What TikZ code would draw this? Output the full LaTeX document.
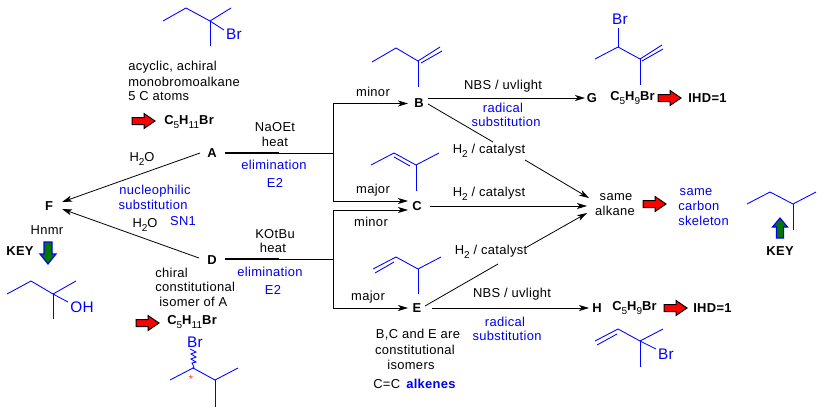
\documentclass[tikz,border=0pt]{standalone}
\usepackage{fontspec}
\setmainfont[LetterSpace=2.5]{Liberation Sans}
\usetikzlibrary{arrows.meta}
\definecolor{molblue}{RGB}{0,0,255}
\definecolor{txtblue}{RGB}{0,0,235}
\definecolor{keygreen}{RGB}{0,120,0}
\newcommand\lowsub[1]{\raisebox{-3pt}{\fontsize{7.5}{7.5}\mdseries\selectfont #1}}
\newcommand\bform[2]{\textbf{C\lowsub{5}H\lowsub{#1}Br}}
\tikzset{
  x=0.75pt,y=-0.75pt,
  txt/.style={inner sep=0pt,font=\fontsize{9.7}{10}\selectfont,text=black},
  bluetxt/.style={txt,text=txtblue},
  boldtxt/.style={txt,font=\fontsize{9.7}{10}\selectfont\bfseries},
  letter/.style={boldtxt,inner sep=1pt},
  molline/.style={draw=molblue,line width=0.65pt,line join=miter},
  molbr/.style={txt,text=molblue,font=\fontsize{11.5}{12}\selectfont},
  conn/.style={draw=black,line width=0.6pt},
  arr/.style={conn,-{Stealth[length=7.5pt,width=4.5pt,inset=2pt]}},
  thick bar/.style={draw=black,line width=1.6pt},
  redarrow/.pic={\draw[black,line width=0.75pt,fill=red] (-12,-3.5) -- (0,-3.5) -- (0,-7.5) -- (11,0) -- (0,7.5) -- (0,3.5) -- (-12,3.5) -- cycle;},
  greendown/.pic={\draw[molblue,line width=0.85pt,fill=keygreen] (-4,-11) -- (4,-11) -- (4,1) -- (8,1) -- (0,11) -- (-8,1) -- (-4,1) -- cycle;},
  greenup/.pic={\draw[molblue,line width=0.85pt,fill=keygreen] (-3.5,10) -- (3.5,10) -- (3.5,-1) -- (7.5,-1) -- (0,-10) -- (-7.5,-1) -- (-3.5,-1) -- cycle;},
}
\begin{document}
\begin{tikzpicture}
\useasboundingbox (0,0) rectangle (824,415);

% letters
\node[letter] (A) at (212,153) {A};
\node[letter] (B) at (419,103) {B};
\node[letter] (C) at (417,206) {C};
\node[letter] (D) at (212,260) {D};
\node[letter] (E) at (417,308) {E};
\node[letter] (F) at (49,206) {F};
\node[letter] (G) at (592,98) {G};
\node[letter] (H) at (597,308) {H};

% coordinates of the forks
\coordinate (ajoin) at (333,153);
\coordinate (abar) at (279,153);
\coordinate (atop) at (333,103.5);
\coordinate (abot) at (333,201);
\coordinate (djoin) at (333,259);
\coordinate (dbar) at (279,259);
\coordinate (dtop) at (333,210);
\coordinate (dbot) at (333,308);
\coordinate (Bin) at (408,103.5);
\coordinate (Cin1) at (408,201);
\coordinate (Cin2) at (408,210);
\coordinate (Ein) at (408,308);
\coordinate (Aout) at (225,153);
\coordinate (Dout) at (225,259);
\coordinate (Aleft) at (200,153);
\coordinate (Dleft) at (199,258);
\coordinate (Fa) at (62,202);
\coordinate (Fd) at (62,209);
\coordinate (Bout) at (428,98);
\coordinate (Bout2) at (428,104);
\coordinate (Gin) at (585,98);
\coordinate (Cout) at (430,206);
\coordinate (Eout) at (425,306);
\coordinate (Eout2) at (432,308);
\coordinate (Hin) at (589,308);
\coordinate (alk1) at (589,198);
\coordinate (alk2) at (587,206);
\coordinate (alk3) at (587,213);

% catalysts on the diagonal lines
\node[txt] (h2b) at (489,151) {H\lowsub{2} / catalyst};
\node[txt] (h2c) at (489,194) {H\lowsub{2} / catalyst};
\node[txt] (h2e) at (491,252) {H\lowsub{2} / catalyst};

% connectors
\draw[arr] (Aleft) -- (Fa);
\draw[arr] (Dleft) -- (Fd);
\draw[thick bar] (Aout) -- (abar);
\draw[conn] (abar) -- (ajoin);
\draw[conn] (atop) -- (abot);
\draw[arr] (atop) -- (Bin);
\draw[arr] (abot) -- (Cin1);
\draw[thick bar] (Dout) -- (dbar);
\draw[conn] (dbar) -- (djoin);
\draw[conn] (dtop) -- (dbot);
\draw[arr] (dtop) -- (Cin2);
\draw[arr] (dbot) -- (Ein);
\draw[arr] (Bout) -- (Gin);
\draw[conn] (Bout2) -- (493,142);
\draw[arr] (525,160) -- (alk1);
\draw[arr] (Cout) -- (alk2);
\draw[conn] (Eout) -- (498,264);
\draw[arr] (527,247) -- (alk3);
\draw[arr] (Eout2) -- (Hin);

% top left text
\node[txt,anchor=west] (t1) at (128,67) {acyclic, achiral};
\node[txt,anchor=west] (t2) at (128,82) {monobromoalkane};
\node[txt,anchor=west] (t3) at (128,96) {5 C atoms};
\pic at (144,121) {redarrow};
\node[boldtxt,anchor=west] (f1) at (164,122) {\bform{11}{}};
\node[txt] (naoet) at (275,127) {NaOEt};
\node[txt] (heat1) at (275,142) {heat};
\node[bluetxt] (el1) at (274,165) {elimination};
\node[bluetxt] (e21) at (275,183) {E2};
\node[txt] (w1) at (142,159) {H\lowsub{2}O};
\node[bluetxt] (nu) at (155,191) {nucleophilic};
\node[bluetxt] (su) at (153,205) {substitution};
\node[bluetxt] (sn) at (183,221) {SN1};
\node[txt] (w2) at (145,225) {H\lowsub{2}O};
\node[txt] (hnmr) at (47,230) {Hnmr};
\node[boldtxt] (key1) at (20,251) {KEY};
\pic at (48,253) {greendown};
\node[txt] (kotbu) at (275,234) {KOtBu};
\node[txt] (heat2) at (273,248) {heat};
\node[bluetxt] (el2) at (270,272) {elimination};
\node[bluetxt] (e22) at (273,290) {E2};
\node[txt,anchor=west] (c1) at (155,273) {chiral};
\node[txt,anchor=west] (c2) at (155,287) {constitutional};
\node[txt,anchor=west] (c3) at (159,302) {isomer of A};
\pic at (148,323) {redarrow};
\node[boldtxt,anchor=west] (f2) at (167,322) {\bform{11}{}};

% middle text
\node[txt] (minor1) at (373,92) {minor};
\node[txt] (major1) at (373,190) {major};
\node[txt] (minor2) at (371,222) {minor};
\node[txt] (major2) at (368,297) {major};
\node[txt] (nbs1) at (503,86) {NBS / uvlight};
\node[bluetxt] (rad1) at (503,108) {radical};
\node[bluetxt] (sub1) at (506,122) {substitution};
\node[txt] (nbs2) at (512,294) {NBS / uvlight};
\node[bluetxt] (rad2) at (505,322) {radical};
\node[bluetxt] (sub2) at (507,336) {substitution};
\node[txt] (bce) at (418,335) {B,C and E are};
\node[txt] (cons) at (415,350) {constitutional};
\node[txt] (iso) at (411,365) {isomers};
\node[txt,anchor=west] (cc) at (373,384) {C=C};
\node[boldtxt,text=txtblue,anchor=west] (alkenes) at (406,384) {alkenes};

% right text
\node[boldtxt,anchor=west] (f3) at (610,98) {\bform{9}{}};
\pic at (670,98) {redarrow};
\node[boldtxt,anchor=west] (ihd1) at (688,98) {IHD=1};
\node[boldtxt,anchor=west] (f4) at (612,308) {\bform{9}{}};
\pic at (676,308) {redarrow};
\node[boldtxt,anchor=west] (ihd2) at (693,308) {IHD=1};
\node[txt] (same1) at (616,197) {same};
\node[txt] (alk) at (615,211) {alkane};
\pic at (655,204) {redarrow};
\node[bluetxt] (same2) at (696,192) {same};
\node[bluetxt,anchor=west] (carb) at (678,206) {carbon};
\node[bluetxt,anchor=west] (skel) at (678,221) {skeleton};
\pic at (780,228) {greenup};
\node[boldtxt] (key2) at (780,251) {KEY};

% molecules
\draw[molline] (163,21) -- (186,8) -- (210,21) -- (231,8);
\draw[molline] (210,21) -- (224,30);
\draw[molline] (210,21) -- (210,46);
\node[molbr] (br1) at (234,34.5) {Br};

\draw[molline] (372,62) -- (396,48) -- (418,61) -- (440,47);
\draw[molline] (421,63) -- (442,51);
\draw[molline] (418,61) -- (418,87);

\draw[molline] (371,165) -- (394,153) -- (416,165) -- (439,153);
\draw[molline] (394,157) -- (410,166);
\draw[molline] (416,165) -- (416,191);

\draw[molline] (373,269) -- (396,257) -- (418,269) -- (441,257);
\draw[molline] (375,273) -- (394,262);
\draw[molline] (418,269) -- (418,294);

\draw[molline] (7,294) -- (31,281) -- (53,294) -- (76,281);
\draw[molline] (53,294) -- (68,302);
\draw[molline] (53,294) -- (53,319);
\node[molbr] (oh) at (82,307) {OH};

\node[molbr] (br2) at (195,342) {Br};
\draw[molline] (190,349) -- (196,352) -- (191,354) -- (196,357) -- (191,359) -- (196,362) -- (192,363) -- (194,367) -- (193,368);
\draw[molline] (170,380) -- (193,368) -- (215,380) -- (238,368);
\draw[molline] (215,380) -- (215,407);
\node[txt,text=red!70,font=\fontsize{9}{9}\selectfont] (star) at (191,379) {*};

\node[molbr] (br3) at (620,19) {Br};
\draw[molline] (618,28) -- (618,47);
\draw[molline] (595,59) -- (618,47) -- (640,59) -- (662,45);
\draw[molline] (642,61) -- (663,49);
\draw[molline] (640,59) -- (640,85);

\draw[molline] (595,341) -- (618,329) -- (640,341) -- (663,329);
\draw[molline] (597,345) -- (617,334);
\draw[molline] (640,341) -- (656,349);
\draw[molline] (640,341) -- (640,367);
\node[molbr] (br4) at (666,354) {Br};

\draw[molline] (747,204) -- (770,192) -- (793,204) -- (816,192);
\draw[molline] (793,204) -- (793,230);
\end{tikzpicture}
\end{document}
